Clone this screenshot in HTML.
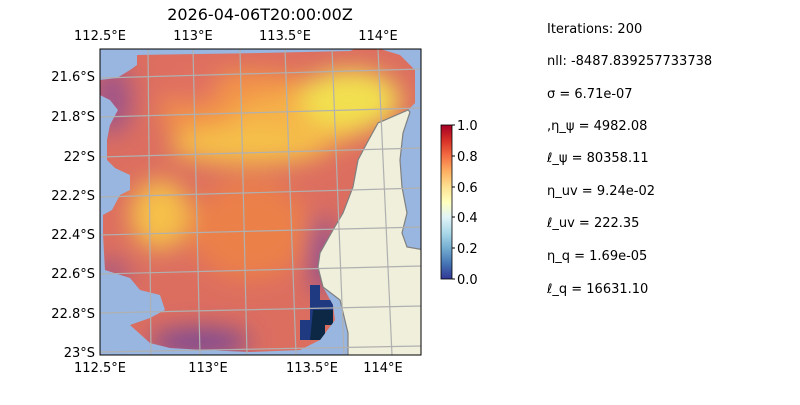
<!DOCTYPE html>
<html><head><meta charset="utf-8"><style>
body{margin:0;background:#fff;width:800px;height:400px;overflow:hidden;font-family:"Liberation Sans","DejaVu Sans",sans-serif}
</style></head><body>
<svg width="800" height="400" xmlns="http://www.w3.org/2000/svg" font-family="DejaVu Sans, Liberation Sans, sans-serif" font-size="13" fill="#000">
<defs>
<clipPath id="map"><rect x="100" y="49" width="321" height="306"/></clipPath>
<clipPath id="field"><polygon points="137,55 260,53 350,51 355,49 380,49 400,55 415,70 415,103 408,110 378,123 367,143 358,160 353,187 343,213 333,230 320,253 318,267 323,287 333,305 335,320 320,340 300,350 250,352 205,350 170,348 150,343 130,325 150,318 165,310 160,295 140,290 130,278 105,270 103,235 103,215 112,210 120,195 130,190 130,175 115,168 107,160 107,140 110,125 118,110 110,100 100,95 100,80 117,78 130,70 137,65"/></clipPath>
<filter id="bl" x="-50%" y="-50%" width="200%" height="200%"><feGaussianBlur stdDeviation="12"/></filter>
<linearGradient id="cb" x1="0" y1="1" x2="0" y2="0">
<stop offset="0" stop-color="#313695"/><stop offset="0.1" stop-color="#4575b4"/><stop offset="0.2" stop-color="#74add1"/><stop offset="0.3" stop-color="#abd9e9"/><stop offset="0.4" stop-color="#e0f3f8"/><stop offset="0.5" stop-color="#ffffbf"/><stop offset="0.6" stop-color="#fee090"/><stop offset="0.7" stop-color="#fdae61"/><stop offset="0.8" stop-color="#f46d43"/><stop offset="0.9" stop-color="#d73027"/><stop offset="1" stop-color="#a50026"/>
</linearGradient>
</defs>
<text x="260" y="20" font-size="16" text-anchor="middle">2026-04-06T20:00:00Z</text>
<g clip-path="url(#map)">
<rect x="100" y="49" width="321" height="306" fill="#98b6e0"/>
<g clip-path="url(#field)">
<rect x="90" y="40" width="340" height="320" fill="#dc6e60"/>
<g filter="url(#bl)">
<ellipse cx="250" cy="110" rx="90" ry="40" fill="#f2934a"/>
<ellipse cx="300" cy="120" rx="70" ry="28" fill="#f5b048"/>
<ellipse cx="350" cy="100" rx="50" ry="30" fill="#f2e050"/>
<ellipse cx="250" cy="145" rx="80" ry="20" fill="#f5c048"/>
<ellipse cx="160" cy="215" rx="30" ry="35" fill="#f5c048"/>
<ellipse cx="250" cy="230" rx="60" ry="50" fill="#ec8048"/>
<ellipse cx="190" cy="80" rx="30" ry="25" fill="#e07060"/>
<ellipse cx="112" cy="100" rx="20" ry="35" fill="#a05488"/>
<ellipse cx="200" cy="342" rx="50" ry="14" fill="#7a4a94"/>
<ellipse cx="322" cy="255" rx="12" ry="40" fill="#8a4e92"/>
<ellipse cx="110" cy="272" rx="20" ry="10" fill="#9a5288"/>
</g>
<polygon points="310,285 320,285 320,300 333,300 333,325 325,325 325,340 300,340 300,320 310,320" fill="#1f3a80"/>
<polygon points="313,310 333,310 333,325 325,325 325,340 310,340" fill="#0c2845"/>
</g>
<polygon points="408,110 378,123 367,143 358,160 353,187 343,213 333,230 320,253 318,267 323,287 340,300 348,333 348,360 425,360 425,250 407,247 402,233 407,213 402,187 400,160 403,133 410,112" fill="#efefdb" stroke="#808080" stroke-width="1.2"/>
<g stroke="#b0b0b0" stroke-width="1.2" fill="none">
<line x1="148" y1="49" x2="151" y2="355"/><line x1="193" y1="49" x2="200" y2="355"/><line x1="240" y1="49" x2="247" y2="355"/><line x1="285" y1="49" x2="296" y2="355"/><line x1="332" y1="49" x2="344" y2="355"/><line x1="378" y1="49" x2="392" y2="355"/>
<line x1="100" y1="78" x2="421" y2="69"/><line x1="100" y1="117" x2="421" y2="108"/><line x1="100" y1="157" x2="421" y2="148"/><line x1="100" y1="197" x2="421" y2="188"/><line x1="100" y1="235" x2="421" y2="227"/><line x1="100" y1="274" x2="421" y2="266"/><line x1="100" y1="313" x2="421" y2="306"/><line x1="100" y1="352" x2="421" y2="346"/>
</g>
</g>
<rect x="100" y="49" width="321" height="306" fill="none" stroke="#000" stroke-width="1"/>
<g text-anchor="middle">
<text x="100" y="40">112.5°E</text><text x="193" y="40">113°E</text><text x="285" y="40">113.5°E</text><text x="378" y="40">114°E</text>
<text x="100" y="372">112.5°E</text><text x="208" y="372">113°E</text><text x="312" y="372">113.5°E</text><text x="383" y="372">114°E</text>
</g>
<g text-anchor="end">
<text x="95" y="81">21.6°S</text><text x="95" y="121">21.8°S</text><text x="95" y="161">22°S</text><text x="95" y="200">22.2°S</text><text x="95" y="239">22.4°S</text><text x="95" y="278">22.6°S</text><text x="95" y="318">22.8°S</text><text x="95" y="357">23°S</text>
</g>
<rect x="441" y="125" width="11" height="154" fill="url(#cb)" stroke="#000" stroke-width="0.8"/>
<g stroke="#000"><line x1="452" y1="125" x2="455" y2="125"/><line x1="452" y1="156" x2="455" y2="156"/><line x1="452" y1="187" x2="455" y2="187"/><line x1="452" y1="217" x2="455" y2="217"/><line x1="452" y1="248" x2="455" y2="248"/><line x1="452" y1="279" x2="455" y2="279"/></g>
<g font-size="13"><text x="457" y="130">1.0</text><text x="457" y="161">0.8</text><text x="457" y="192">0.6</text><text x="457" y="222">0.4</text><text x="457" y="253">0.2</text><text x="457" y="284">0.0</text></g>
<g font-size="13">
<text x="547" y="33">Iterations: 200</text>
<text x="547" y="65">nll: -8487.839257733738</text>
<text x="547" y="98">σ = 6.71e-07</text>
<text x="547" y="130">,η_ψ = 4982.08</text>
<text x="547" y="162">ℓ_ψ = 80358.11</text>
<text x="547" y="195">η_uv = 9.24e-02</text>
<text x="547" y="227">ℓ_uv = 222.35</text>
<text x="547" y="260">η_q = 1.69e-05</text>
<text x="547" y="293">ℓ_q = 16631.10</text>
</g>
</svg>
</body></html>
